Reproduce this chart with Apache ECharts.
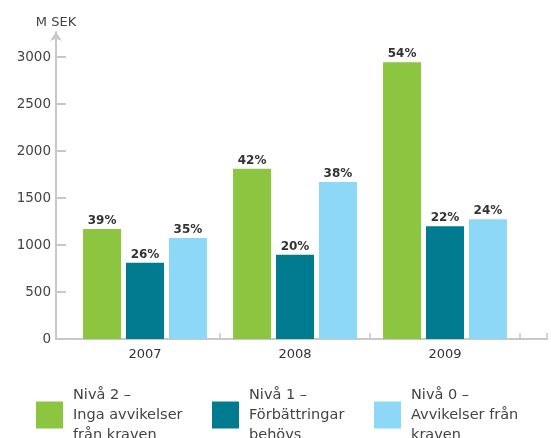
<!DOCTYPE html>
<html><head><meta charset="utf-8">
<script src="https://cdn.jsdelivr.net/npm/echarts@6/dist/echarts.min.js"></script>
<style>html,body{margin:0;padding:0;background:#fff}#c{width:551px;height:438px}</style>
</head><body><div id="c"></div>
<script>
const categories = ['2007', '2008', '2009'];
const seriesNames = ['Nivå 2 –\nInga avvikelser\nfrån kraven', 'Nivå 1 –\nFörbättringar\nbehövs', 'Nivå 0 –\nAvvikelser från\nkraven'];
const niva2 = [1170, 1810, 2945];
const niva1 = [810, 895, 1200];
const niva0 = [1075, 1670, 1275];
const niva2Pct = ['39%', '42%', '54%'];
const niva1Pct = ['26%', '20%', '22%'];
const niva0Pct = ['35%', '38%', '24%'];
const yTicks = [0, 500, 1000, 1500, 2000, 2500, 3000];
const colors = ['#8cc53f', '#007b8f', '#8dd8f6'];

const FONT = 'DejaVu Sans';
const chart = echarts.init(document.getElementById('c'));
function mk(name, data, pct, color) {
  return {
    type: 'bar', name: name, data: data, xAxisIndex: 0, yAxisIndex: 0,
    barWidth: 38, barGap: '13%',
    itemStyle: { color: color },
    label: { show: true, position: 'top', distance: 2, formatter: p => pct[p.dataIndex],
      fontFamily: FONT, fontWeight: 'bold', fontSize: 12, color: '#333' }
  };
}
const legendBase = { top: 385, padding: 0, itemWidth: 27, itemHeight: 27, icon: 'rect',
  textStyle: { fontSize: 14.5, lineHeight: 20, color: '#444', fontFamily: FONT, padding: [0, 0, 0, 5] } };
chart.setOption({
  animation: false,
  textStyle: { fontFamily: FONT },
  grid: [
    { left: 70, right: 31, top: 57, bottom: 99 },
    { left: 56, right: 4, top: 32, bottom: 99 }
  ],
  xAxis: [
    { type: 'category', gridIndex: 0, data: categories,
      axisLine: { show: false },
      axisTick: { show: true, inside: true, length: 6, interval: (i) => i === 1 || i === 2,
        lineStyle: { color: '#c8c8c8', width: 1.5 } },
      axisLabel: { margin: 9, fontSize: 13, color: '#333', fontFamily: FONT } },
    { type: 'value', gridIndex: 1, min: 0, max: 1, interval: 1,
      axisLine: { show: true, onZero: false, lineStyle: { color: '#c8c8c8', width: 2 } },
      axisTick: { show: true, inside: true, length: 6, lineStyle: { color: '#c8c8c8', width: 1.5 } },
      axisLabel: { show: false }, splitLine: { show: false } }
  ],
  yAxis: [
    { type: 'value', gridIndex: 0, min: yTicks[0], max: yTicks[yTicks.length - 1], interval: 500, offset: 14,
      axisLine: { show: false },
      axisTick: { show: true, inside: true, length: 10, lineStyle: { color: '#c8c8c8', width: 2 } },
      axisLabel: { margin: 5, fontSize: 13.5, color: '#444', fontFamily: FONT, formatter: v => String(v) },
      splitLine: { show: false } },
    { type: 'value', gridIndex: 1, min: 0, max: 1,
      name: 'M SEK', nameLocation: 'end', nameGap: 3,
      nameTextStyle: { fontSize: 13, color: '#444', fontFamily: FONT, align: 'center' },
      axisLine: { show: true, onZero: false, symbol: ['none', 'arrow'], symbolSize: [9, 9],
        lineStyle: { color: '#c8c8c8', width: 2 } },
      axisTick: { show: false }, axisLabel: { show: false }, splitLine: { show: false } }
  ],
  legend: [
    Object.assign({}, legendBase, { data: [seriesNames[0]], left: 36 }),
    Object.assign({}, legendBase, { data: [seriesNames[1]], left: 212 }),
    Object.assign({}, legendBase, { data: [seriesNames[2]], left: 374 })
  ],
  series: [
    mk(seriesNames[0], niva2, niva2Pct, colors[0]),
    mk(seriesNames[1], niva1, niva1Pct, colors[1]),
    mk(seriesNames[2], niva0, niva0Pct, colors[2])
  ]
});
</script></body></html>
